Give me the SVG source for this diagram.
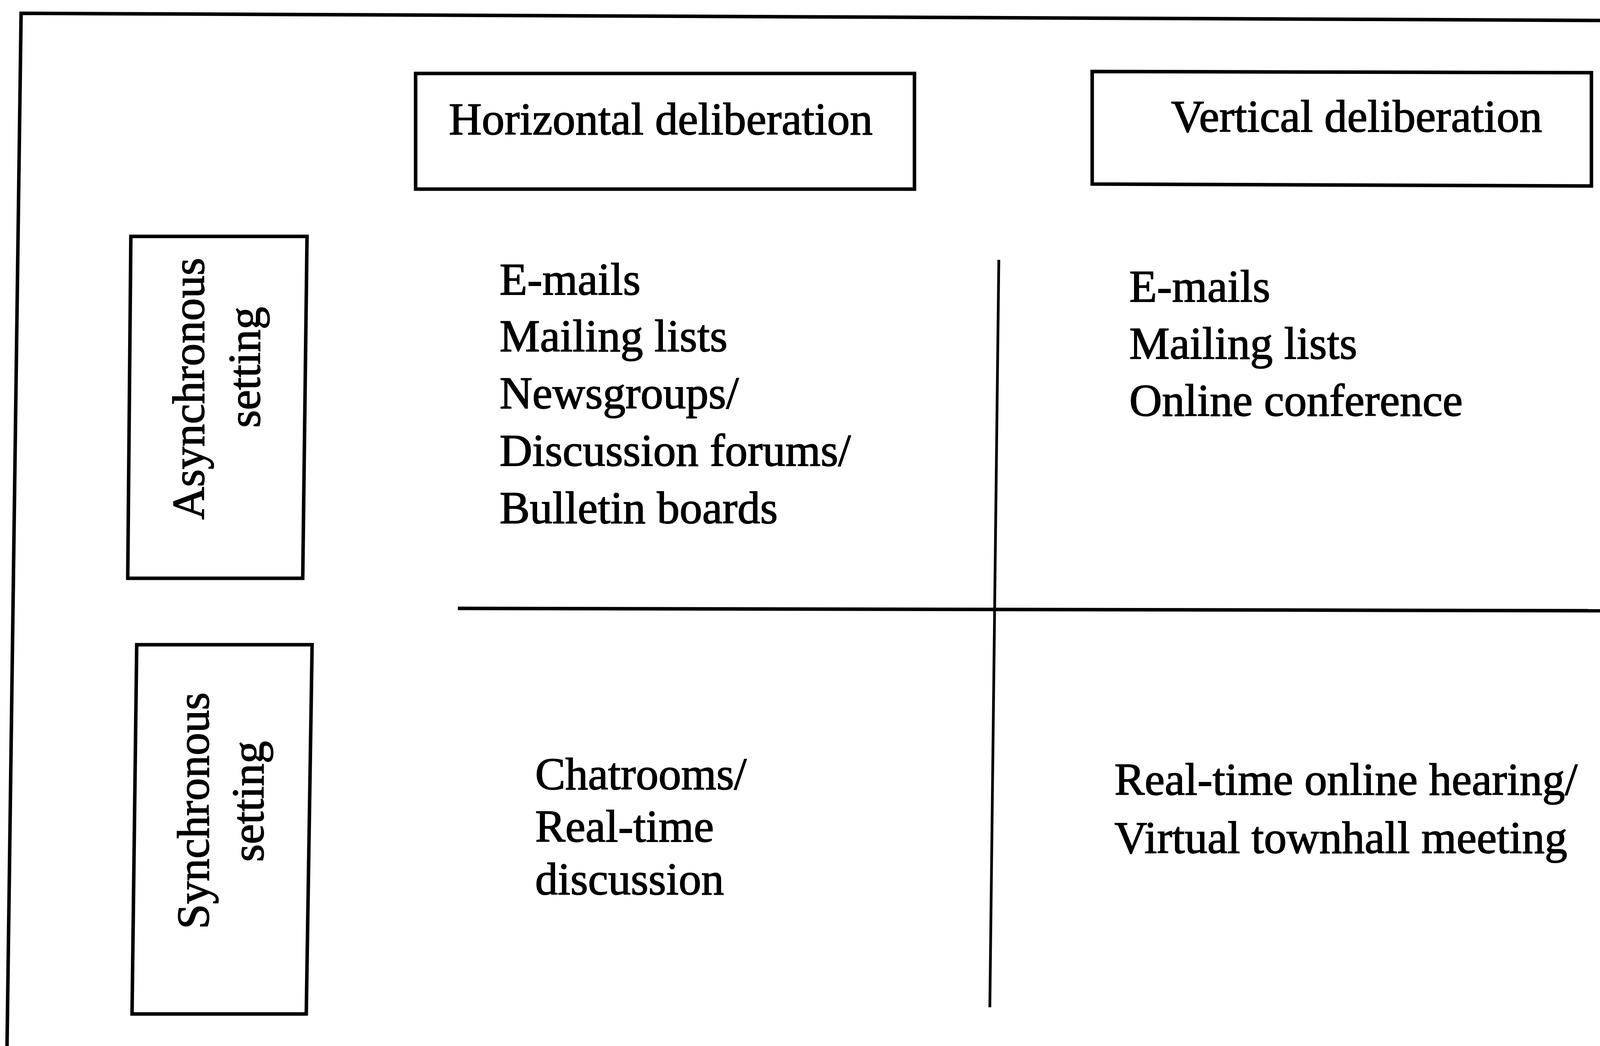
<svg xmlns="http://www.w3.org/2000/svg" width="4477" height="2677" viewBox="0 0 4477 2677">
<style>
.bg{fill:#ffffff}
.box{fill:none;stroke:#000;stroke-width:9;stroke-linejoin:miter}
.frame{fill:none;stroke:#000;stroke-width:9}
.div{fill:none;stroke:#000;stroke-width:9;stroke-linecap:butt}
.t{font-family:"Liberation Serif","Times New Roman",serif;font-size:116px;fill:#000;stroke:#000;stroke-width:2}
.tm{font-family:"Liberation Serif","Times New Roman",serif;font-size:116px;fill:#000;stroke:#000;stroke-width:2;text-anchor:middle}
</style>
<rect class="bg" x="0" y="0" width="4477" height="2677"/>
<g id="frame">
<path class="frame" d="M 18 2677 L 54 34 L 4477 54"/>
<path class="frame" d="M 4472 1853 L 4472 2677"/>
</g>
<g id="connectors">
<path class="div" d="M 1172 1557 L 4100 1563"/>
<path class="div" style="stroke-width:7" d="M 2557 665 L 2534 2578"/>
</g>
<g id="header-horizontal">
<path class="box" d="M 1064 188 L 2341 188 L 2341 484 L 1064 484 Z"/>
<text class="t" x="1149" y="344" textLength="1085" lengthAdjust="spacingAndGlyphs">Horizontal deliberation</text>
</g>
<g id="header-vertical">
<path class="box" d="M 2796 183 L 4074 186 L 4074 476 L 2796 471 Z"/>
<text class="t" x="2998" y="337" textLength="950" lengthAdjust="spacingAndGlyphs">Vertical deliberation</text>
</g>
<g id="row-async">
<path class="box" d="M 335 605 L 786 605 L 775 1480 L 327 1480 Z"/>
<text class="tm" transform="translate(522,995) rotate(-90)">Asynchronous</text>
<text class="tm" transform="translate(665,940) rotate(-90)">setting</text>
</g>
<g id="row-sync">
<path class="box" d="M 350 1650 L 799 1650 L 784 2595 L 338 2595 Z"/>
<text class="tm" transform="translate(534,2075) rotate(-90)">Synchronous</text>
<text class="tm" transform="translate(674,2051) rotate(-90)">setting</text>
</g>
<g id="cell-async-horizontal">
<text class="t" x="1279" y="754">E-mails</text>
<text class="t" x="1279" y="899">Mailing lists</text>
<text class="t" x="1279" y="1045">Newsgroups/</text>
<text class="t" x="1279" y="1192">Discussion forums/</text>
<text class="t" x="1279" y="1339">Bulletin boards</text>
</g>
<g id="cell-async-vertical">
<text class="t" x="2891" y="772">E-mails</text>
<text class="t" x="2891" y="918">Mailing lists</text>
<text class="t" x="2891" y="1064">Online conference</text>
</g>
<g id="cell-sync-horizontal">
<text class="t" x="1370" y="2020">Chatrooms/</text>
<text class="t" x="1370" y="2154">Real-time</text>
<text class="t" x="1370" y="2289">discussion</text>
</g>
<g id="cell-sync-vertical">
<text class="t" x="2853" y="2034">Real-time online hearing/</text>
<text class="t" x="2853" y="2183">Virtual townhall meeting</text>
</g>
</svg>
